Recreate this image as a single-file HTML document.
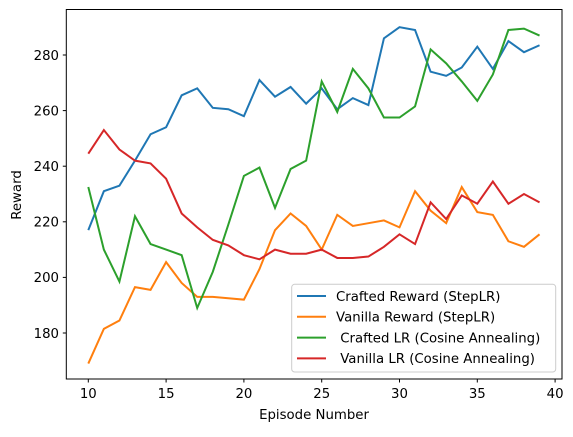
<!DOCTYPE html>
<html><head><meta charset="utf-8"><style>
body{margin:0;background:#fff;}
svg text{font-family:"DejaVu Sans","Liberation Sans",sans-serif;font-size:13.3px;fill:#000;}
</style></head><body>
<svg id="chart" width="573" height="432" xmlns="http://www.w3.org/2000/svg">
<g id="grid"></g>
<g id="series"></g>
<rect x="66.3" y="9.5" width="495.7" height="369.5" fill="none" stroke="#000" stroke-width="1"/>
<g id="axes"></g>
<text x="314" y="419" text-anchor="middle">Episode Number</text>
<text transform="translate(21,195) rotate(-90)" text-anchor="middle">Reward</text>
<g id="legend"></g>
</svg>
<script>
const episodes=[10,11,12,13,14,15,16,17,18,19,20,21,22,23,24,25,26,27,28,29,30,31,32,33,34,35,36,37,38,39];
const craftedStep=[217,231,233,242,251.5,254,265.5,268,261,260.5,258,271,265,268.5,262.5,268,260.5,264.5,262,286,290,289,274,272.5,275.5,283,275,285,281,283.5];
const vanillaStep=[169,181.5,184.5,196.5,195.5,205.5,198,193,193,192.5,192,203,217,223,218.5,210,222.5,218.5,219.5,220.5,218,231,224,219.5,232.5,223.5,222.5,213,211,215.5];
const craftedCos=[232.5,210,198.5,222,212,210,208,189,202,219,236.5,239.5,225,239,242,270.5,259.5,275,268,257.5,257.5,261.5,282,277,270.5,263.5,273,289,289.5,287];
const vanillaCos=[244.5,253,246,242,241,235.5,223,218,213.5,211.5,208,206.5,210,208.5,208.5,210,207,207,207.5,211,215.5,212,227,221,229.5,226.5,234.5,226.5,230,227];
const xTicks=[10,15,20,25,30,35,40];
const yTicks=[180,200,220,240,260,280];
const seriesNames=["Crafted Reward (StepLR)","Vanilla Reward (StepLR)"," Crafted LR (Cosine Annealing)"," Vanilla LR (Cosine Annealing)"];
const seriesColors=["#1f77b4","#ff7f0e","#2ca02c","#d62728"];
const seriesData=[craftedStep,vanillaStep,craftedCos,vanillaCos];
const NS="http://www.w3.org/2000/svg";
function xs(v){return 88.3+(v-10)*15.56;}
function ys(v){return 55+(280-v)*2.78;}
const axes=document.getElementById('axes');
xTicks.forEach(t=>{
  const l=document.createElementNS(NS,'line');
  
  
  l.setAttribute('x1',xs(t));l.setAttribute('x2',xs(t));l.setAttribute('y1',379);l.setAttribute('y2',382.5);l.setAttribute('stroke','#000');
  axes.appendChild(l);
  const tx=document.createElementNS(NS,'text');
  
  
  tx.setAttribute('x',xs(t));tx.setAttribute('y',398);tx.setAttribute('text-anchor','middle');tx.textContent=t;
  axes.appendChild(tx);
});
yTicks.forEach(t=>{
  const l=document.createElementNS(NS,'line');
  
  
  l.setAttribute('x1',62.8);l.setAttribute('x2',66.3);l.setAttribute('y1',ys(t));l.setAttribute('y2',ys(t));l.setAttribute('stroke','#000');
  axes.appendChild(l);
  const tx=document.createElementNS(NS,'text');
  
  
  tx.setAttribute('x',59);tx.setAttribute('y',ys(t)+4.8);tx.setAttribute('text-anchor','end');tx.textContent=t;
  axes.appendChild(tx);
});
const sg=document.getElementById('series');
seriesData.forEach((d,i)=>{
  const p=document.createElementNS(NS,'polyline');
  
  
  p.setAttribute('points',d.map((v,j)=>xs(episodes[j])+','+ys(v)).join(' '));
  p.setAttribute('fill','none');p.setAttribute('stroke',seriesColors[i]);p.setAttribute('stroke-width','2');
  sg.appendChild(p);
});
const lg=document.getElementById('legend');
const box=document.createElementNS(NS,'rect');


box.setAttribute('x',291.7);box.setAttribute('y',284.3);box.setAttribute('width',264);box.setAttribute('height',87.7);box.setAttribute('rx',3);
box.setAttribute('fill','#fff');box.setAttribute('fill-opacity','0.8');box.setAttribute('stroke','#ccc');
lg.appendChild(box);
seriesNames.forEach((n,i)=>{
  const y=296+i*20.8;
  const l=document.createElementNS(NS,'line');
  
  
  l.setAttribute('x1',297);l.setAttribute('x2',326);l.setAttribute('y1',y);l.setAttribute('y2',y);
  l.setAttribute('stroke',seriesColors[i]);l.setAttribute('stroke-width','2');
  lg.appendChild(l);
  const t=document.createElementNS(NS,'text');
  
  
  t.setAttribute('x',336);t.setAttribute('y',y+4.8);t.setAttribute('xml:space','preserve');t.style.whiteSpace='pre';t.textContent=n;
  lg.appendChild(t);
});
</script>
</body></html>
